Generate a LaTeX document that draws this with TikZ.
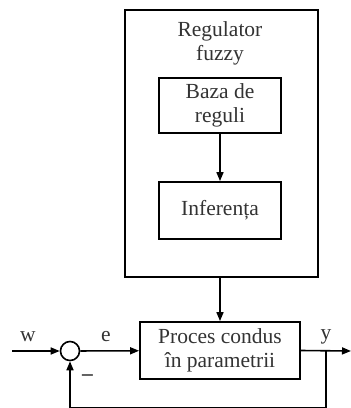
\documentclass[tikz,border=0pt]{standalone}
\usepackage{fontspec}
\setmainfont{Liberation Serif}
\usetikzlibrary{arrows.meta}
\begin{document}
\begin{tikzpicture}[x=1pt,y=-1pt,
  txt/.style={font=\fontsize{21.5}{24}\selectfont, text=black!80, align=center, inner sep=0pt},
  blk/.style={draw, line width=1.8pt, inner sep=0pt, txt},
  conn/.style={line width=1.6pt},
  arr/.style={conn, -{Triangle[length=9pt,width=7pt]}}]
\useasboundingbox (0,0) rectangle (351,408);
\node[draw, line width=2.6pt, minimum width=193pt, minimum height=267pt, inner sep=0pt] (reg) at (221.5,143.5) {};
\node[txt] (title) at (220,43) {Regulator\\fuzzy};
\node[blk, minimum width=122pt, minimum height=55pt] (baza) at (220,105.5) {Baza de\\reguli};
\node[blk, minimum width=122pt, minimum height=57pt] (inf) at (220,210.5) {Inferența};
\node[blk, minimum width=160pt, minimum height=57pt] (proc) at (220,350.5) {Proces condus\\în parametrii};
\node[draw, circle, line width=1.6pt, minimum size=19pt, inner sep=0pt] (sum) at (70,351) {};
\coordinate (win) at (12,351);
\coordinate (yout) at (351,351);
\coordinate (br) at (326,351);
\coordinate (fbr) at (326,407.6);
\coordinate (fbl) at (70,407.6);
\node[txt] (wl) at (28,337) {w};
\node[txt] (el) at (106,337) {e};
\node[txt] (yl) at (326,337) {y};
\node[txt] (minus) at (87.5,378) {\textbf{–}};
\draw[arr] (baza) -- (inf);
\draw[arr] (proc.north |- reg.south) -- (proc.north);
\draw[arr] (win) -- (sum);
\draw[arr] (sum) -- (proc);
\draw[arr] (proc.east) -- (yout);
\draw[arr] (br) -- (fbr) -- (fbl) -- (sum.south);
\end{tikzpicture}
\end{document}
